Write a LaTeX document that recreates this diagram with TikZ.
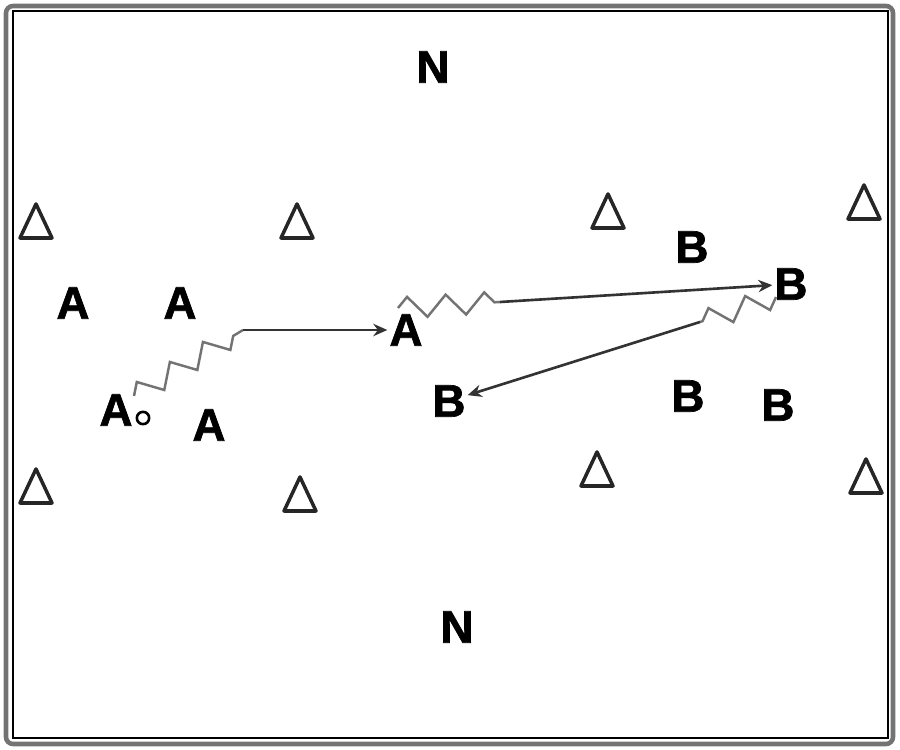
\documentclass[tikz,border=0pt]{standalone}
\usepackage{fontspec}
\setmainfont{Liberation Sans}
\newfontfamily\heavyfont[FakeBold=1.5]{Liberation Sans Bold}
\usetikzlibrary{arrows.meta}
\usetikzlibrary{decorations.pathmorphing}

\tikzset{
    player/.style={font=\fontsize{26}{26}\heavyfont, inner sep=1pt},
    cone/.style={line width=2pt, line join=round, draw=black!85},
    dribble/.style={decorate, decoration={zigzag, segment length=22, amplitude=6},
            line width=1.4pt, draw=black!55},
    run/.style={line width=1.5pt, black!80, -{Stealth[length=8pt, width=7pt]}},
}

\begin{document}
\begin{tikzpicture}[x=0.02cm, y=-0.02cm]
        \useasboundingbox (0,0) rectangle (900,750);
        % field
        \draw[line width=2.6pt, black!55, rounded corners=4pt] (6,6) rectangle (893,744);
        \draw[line width=0.8pt] (13,11) rectangle (888,738);
        % cones
        \foreach \x/\y in {36/222, 297/222, 608/212, 864/203, 36/487, 300/495, 597/470, 866/477} {
                \draw[cone] (\x,\y-18) -- (\x+16,\y+16) -- (\x-16,\y+16) -- cycle;
            }
        % goals
        \node[player] (n1) at (433,67) {N};
        \node[player] (n2) at (457,627) {N};
        % team A
        \node[player] (a1) at (73,303) {A};
        \node[player] (a2) at (180,303) {A};
        \node[player] (a3) at (116,410) {A};
        \node[player] (a4) at (209,425) {A};
        \node[player] (a5) at (406,330) {A};
        \node[draw, circle, line width=1.5pt, inner sep=0pt, minimum size=7pt] (ball) at (143,418) {};
        % team B
        \node[player] (b1) at (692,247) {B};
        \node[player] (b2) at (791,284) {B};
        \node[player] (b3) at (449,401) {B};
        \node[player] (b4) at (688,396) {B};
        \node[player] (b5) at (778,405) {B};
        % moves
        \coordinate (s1) at (134,396);
        \coordinate (k1) at (243,330);
        \coordinate (s2) at (398,308);
        \coordinate (k2) at (500,302);
        \coordinate (s3) at (776,297);
        \coordinate (k3) at (700,322);
        \draw[dribble] (s1) -- (k1);
        \draw[run] (k1) -- (a5);
        \draw[dribble] (s2) -- (k2);
        \draw[run] (k2) -- (b2);
        \draw[dribble] (s3) -- (k3);
        \draw[run] (k3) -- (b3);
    \end{tikzpicture}
\end{document}
